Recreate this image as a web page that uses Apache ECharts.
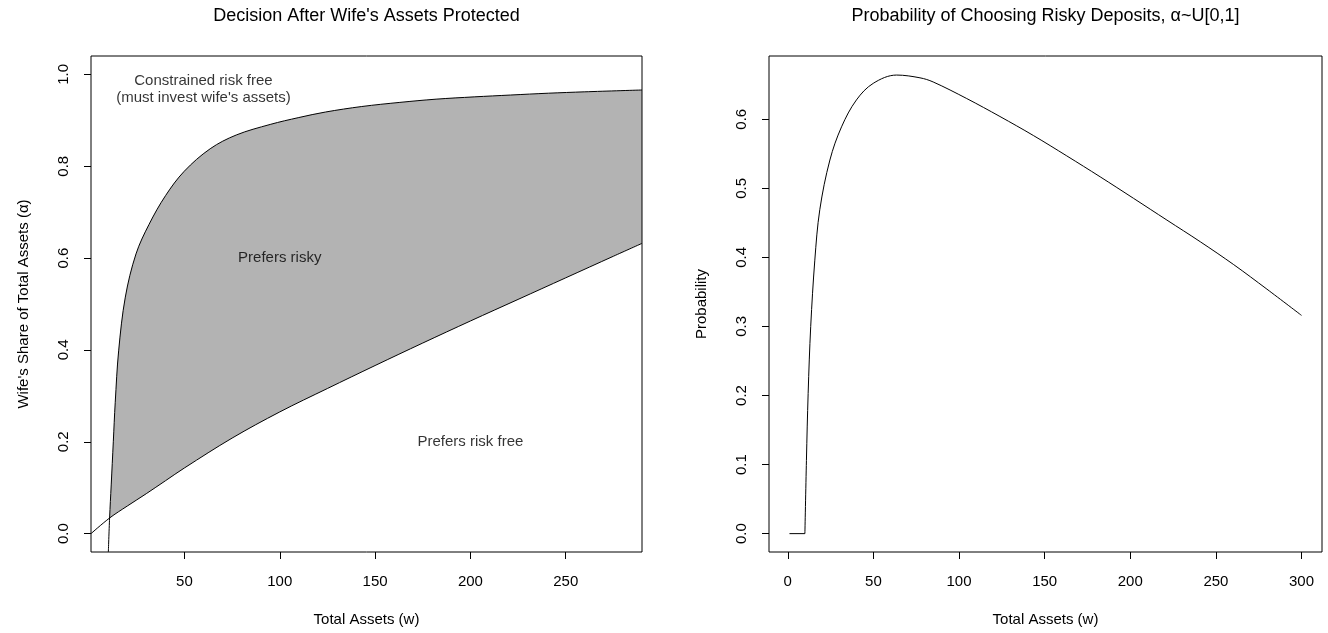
<!DOCTYPE html>
<html><head><meta charset="utf-8">
<script src="https://cdn.jsdelivr.net/npm/echarts@6/dist/echarts.min.js"></script>
<style>html,body{margin:0;padding:0;background:#fff}#c{width:1328px;height:633px}</style>
</head><body><div id="c"></div>
<script>
// Left panel: upper boundary
const upperX = [10.1, 10.75, 11.6, 12.7, 13.7, 15.5, 19.0, 24.6, 31.4, 40.1, 49.9, 63.5, 77.2, 95, 110, 124, 143, 163, 182, 202, 221, 241, 260, 290];
const upperY = [-0.04, 0.034, 0.106, 0.2, 0.285, 0.398, 0.515, 0.609, 0.673, 0.736, 0.789, 0.838, 0.868, 0.891, 0.906, 0.918, 0.93, 0.939, 0.946, 0.951, 0.955, 0.959, 0.962, 0.966];
// Left panel: lower boundary
const lowerX = [1, 10.75, 20, 30, 40, 50, 75, 100, 125, 150, 175, 200, 225, 250, 275, 290];
const lowerY = [0, 0.034, 0.06, 0.087, 0.115, 0.143, 0.208, 0.265, 0.316, 0.366, 0.415, 0.463, 0.51, 0.557, 0.604, 0.632];
// Right panel: probability of choosing risky deposits
const probX = [1, 10, 10.9, 11.9, 13.4, 15.8, 18.7, 24.6, 31.4, 40.1, 49.9, 63.5, 77.2, 84.9, 104.5, 123.9, 143.4, 162.9, 182.4, 201.9, 221.4, 240.9, 260.4, 279.8, 300];
const probY = [0, 0, 0.106, 0.203, 0.3, 0.396, 0.469, 0.541, 0.589, 0.628, 0.652, 0.664, 0.66, 0.654, 0.63, 0.604, 0.5765, 0.547, 0.5167, 0.4855, 0.454, 0.4226, 0.3895, 0.354, 0.316];

const leftXTicks = [50, 100, 150, 200, 250];
const leftYTicks = [0, 0.2, 0.4, 0.6, 0.8, 1.0];
const rightXTicks = [0, 50, 100, 150, 200, 250, 300];
const rightYTicks = [0, 0.1, 0.2, 0.3, 0.4, 0.5, 0.6];

const annoX = [60, 100, 200];
const annoY = [0.968, 0.6, 0.2];
const annoText = ["Constrained risk free\n(must invest wife's assets)", "Prefers risky", "Prefers risk free"];

const titles = ["Decision After Wife's Assets Protected", "Probability of Choosing Risky Deposits, α~U[0,1]"];
const xNames = ["Total Assets (w)", "Total Assets (w)"];
const yNames = ["Wife's Share of Total Assets (α)", "Probability"];

const F = "'Liberation Sans', Arial, Helvetica, sans-serif";
const FS = 15;
const zip = (xs, ys) => xs.map((x, i) => [x, ys[i]]);

function xAx(gi, min, max, ticks, name) {
  return {
    type: 'value', gridIndex: gi, min: min, max: max, position: 'bottom',
    axisLine: { show: false, onZero: false }, splitLine: { show: false },
    axisTick: { show: true, inside: false, length: 7, customValues: ticks, lineStyle: { color: '#000', width: 1 } },
    axisLabel: { customValues: ticks, margin: 22, fontSize: FS, color: '#000', fontFamily: F, formatter: v => String(v) },
    name: name, nameLocation: 'middle', nameGap: 60,
    nameTextStyle: { fontSize: FS, color: '#000', fontFamily: F }
  };
}
function yAx(gi, min, max, ticks, name) {
  return {
    type: 'value', gridIndex: gi, min: min, max: max, position: 'left',
    axisLine: { show: false, onZero: false }, splitLine: { show: false },
    axisTick: { show: true, inside: false, length: 7, customValues: ticks, lineStyle: { color: '#000', width: 1 } },
    axisLabel: { customValues: ticks, margin: 20, rotate: 90, fontSize: FS, color: '#000', fontFamily: F, formatter: v => v.toFixed(1) },
    name: name, nameLocation: 'middle', nameGap: 60, nameRotate: 90,
    nameTextStyle: { fontSize: FS, color: '#000', fontFamily: F }
  };
}

const gridBase = { show: true, borderColor: '#000', borderWidth: 1, backgroundColor: 'transparent', z: 5, containLabel: false, outerBoundsMode: 'none' };
const SM = 0.35;

const chart = echarts.init(document.getElementById('c'), null, { renderer: 'canvas' });
chart.setOption({
  animation: false,
  backgroundColor: '#fff',
  textStyle: { fontFamily: F },
  graphic: [
    { type: 'text', x: 366.5, y: 16, style: { text: titles[0], font: '18px ' + F, fill: '#000', textAlign: 'center', textVerticalAlign: 'middle' } },
    { type: 'text', x: 1045.5, y: 16, style: { text: titles[1], font: '18px ' + F, fill: '#000', textAlign: 'center', textVerticalAlign: 'middle' } }
  ],
  grid: [
    Object.assign({ left: 91, top: 56, width: 551, height: 496 }, gridBase),
    Object.assign({ left: 769, top: 56, width: 553, height: 496 }, gridBase)
  ],
  xAxis: [
    xAx(0, 1, 290, leftXTicks, xNames[0]),
    xAx(1, -10.96, 311.96, rightXTicks, xNames[1])
  ],
  yAxis: [
    yAx(0, -0.04, 1.04, leftYTicks, yNames[0]),
    yAx(1, -0.0266, 0.6916, rightYTicks, yNames[1])
  ],
  series: [
    { // gray fill under upper boundary
      type: 'line', xAxisIndex: 0, yAxisIndex: 0, data: zip(upperX, upperY), smooth: SM,
      symbol: 'none', lineStyle: { width: 0, opacity: 0 }, areaStyle: { color: '#B3B3B3', opacity: 1, origin: 'start' }, z: 1
    },
    { // white fill under lower boundary
      type: 'line', xAxisIndex: 0, yAxisIndex: 0, data: zip(lowerX, lowerY), smooth: SM,
      symbol: 'none', lineStyle: { width: 0, opacity: 0 }, areaStyle: { color: '#FFFFFF', opacity: 1, origin: 'start' }, z: 1
    },
    {
      type: 'line', xAxisIndex: 0, yAxisIndex: 0, data: zip(upperX, upperY), smooth: SM,
      symbol: 'none', lineStyle: { width: 1, color: '#000' }, z: 3
    },
    {
      type: 'line', xAxisIndex: 0, yAxisIndex: 0, data: zip(lowerX, lowerY), smooth: SM,
      symbol: 'none', lineStyle: { width: 1, color: '#000' }, z: 3
    },
    { // annotations
      type: 'scatter', xAxisIndex: 0, yAxisIndex: 0, symbolSize: 0, z: 4,
      data: annoX.map((x, i) => ({ value: [x, annoY[i]], name: annoText[i] })),
      label: { show: true, position: 'inside', formatter: p => p.name, color: '#000', fontSize: FS, fontFamily: F, lineHeight: 17.3, align: 'center' }
    },
    { // right panel flat part
      type: 'line', xAxisIndex: 1, yAxisIndex: 1, data: zip(probX.slice(0, 2), probY.slice(0, 2)),
      symbol: 'none', lineStyle: { width: 1, color: '#000' }, z: 3
    },
    { // right panel curve
      type: 'line', xAxisIndex: 1, yAxisIndex: 1, data: zip(probX.slice(1), probY.slice(1)), smooth: SM,
      symbol: 'none', lineStyle: { width: 1, color: '#000' }, z: 3
    }
  ]
});
</script></body></html>
